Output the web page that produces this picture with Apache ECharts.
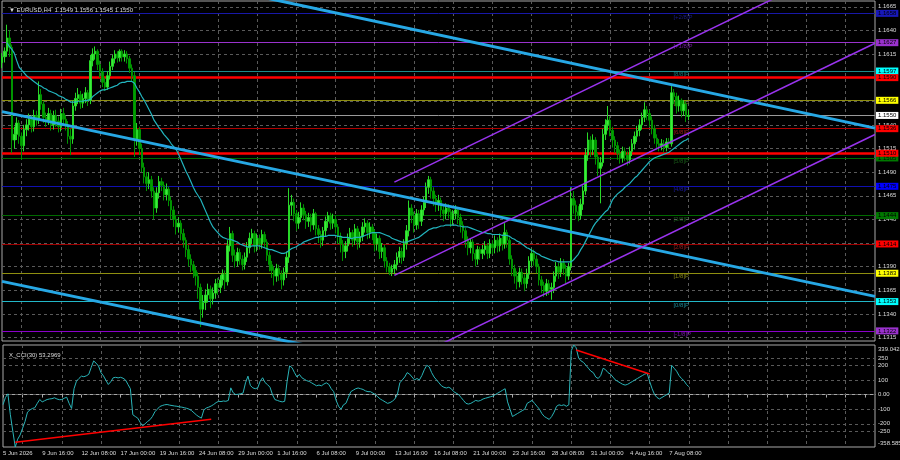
<!DOCTYPE html>
<html><head><meta charset="utf-8">
<script src="https://cdn.jsdelivr.net/npm/echarts@6.0.0/dist/echarts.min.js"></script>
<style>html,body{margin:0;padding:0;background:#000;}#c{width:900px;height:460px;}</style>
</head><body><div id="c"></div>
<script>
// ---------- DATA ----------
const symbolTitle = 'EURUSD,H4';
const cciTitle = 'X_CCI(30) 53.2969';
const firstBarUTC = [2026, 5, 5, 0];   // 5 Jun 2026 00:00, H4 bars
const totalBars = 357;                  // visible slots incl. empty right margin

const opens = [
1.1606,1.1612,1.1618,1.1632,1.1622,1.1524,1.1530,1.1542,1.1528,1.1518,
1.1535,1.1540,1.1546,1.1538,1.1550,1.1545,1.1572,1.1562,1.1548,1.1545,
1.1552,1.1540,1.1550,1.1544,1.1538,1.1552,1.1546,1.1540,1.1528,1.1525,
1.1560,1.1568,1.1572,1.1563,1.1568,1.1574,1.1566,1.1608,1.1615,1.1618,
1.1604,1.1596,1.1585,1.1580,1.1592,1.1602,1.1610,1.1615,1.1611,1.1618,
1.1612,1.1615,1.1610,1.1600,1.1592,1.1525,1.1535,1.1515,1.1495,1.1485,
1.1478,1.1482,1.1470,1.1452,1.1468,1.1480,1.1476,1.1466,1.1472,1.1460,
1.1450,1.1440,1.1432,1.1436,1.1425,1.1418,1.1408,1.1398,1.1392,1.1386,
1.1380,1.1368,1.1345,1.1352,1.1360,1.1366,1.1356,1.1362,1.1372,1.1368,
1.1376,1.1382,1.1374,1.1412,1.1425,1.1402,1.1396,1.1405,1.1398,1.1392,
1.1400,1.1410,1.1420,1.1425,1.1412,1.1420,1.1414,1.1424,1.1416,1.1402,
1.1392,1.1386,1.1380,1.1388,1.1382,1.1376,1.1384,1.1400,1.1455,1.1458,
1.1446,1.1436,1.1442,1.1452,1.1445,1.1438,1.1442,1.1434,1.1446,1.1430,
1.1424,1.1418,1.1428,1.1438,1.1444,1.1436,1.1440,1.1432,1.1422,1.1414,
1.1406,1.1412,1.1420,1.1426,1.1418,1.1430,1.1416,1.1422,1.1432,1.1436,
1.1426,1.1432,1.1426,1.1414,1.1420,1.1406,1.1410,1.1396,1.1390,1.1384,
1.1388,1.1392,1.1400,1.1406,1.1400,1.1414,1.1428,1.1452,1.1444,1.1434,
1.1446,1.1438,1.1450,1.1458,1.1474,1.1482,1.1470,1.1462,1.1456,1.1460,
1.1450,1.1446,1.1452,1.1448,1.1440,1.1446,1.1450,1.1442,1.1434,1.1428,
1.1418,1.1410,1.1416,1.1404,1.1398,1.1408,1.1404,1.1408,1.1412,1.1404,
1.1414,1.1410,1.1418,1.1412,1.1420,1.1414,1.1426,1.1418,1.1398,1.1388,
1.1380,1.1374,1.1384,1.1378,1.1372,1.1382,1.1396,1.1404,1.1398,1.1390,
1.1376,1.1370,1.1364,1.1372,1.1366,1.1368,1.1380,1.1390,1.1384,1.1394,
1.1388,1.1380,1.1390,1.1462,1.1455,1.1448,1.1444,1.1456,1.1470,1.1508,
1.1524,1.1514,1.1524,1.1506,1.1494,1.1500,1.1530,1.1540,1.1545,1.1534,
1.1524,1.1518,1.1510,1.1505,1.1512,1.1508,1.1503,1.1512,1.1520,1.1528,
1.1534,1.1540,1.1548,1.1556,1.1552,1.1545,1.1536,1.1526,1.1520,1.1518,
1.1520,1.1516,1.1522,1.1520,1.1574,1.1570,1.1560,1.1566,1.1555,1.1562,1.1549];

const closes = [
1.1612,1.1618,1.1632,1.1622,1.1524,1.1530,1.1542,1.1528,1.1518,1.1535,
1.1540,1.1546,1.1538,1.1550,1.1545,1.1572,1.1562,1.1548,1.1545,1.1552,
1.1540,1.1550,1.1544,1.1538,1.1552,1.1546,1.1540,1.1528,1.1525,1.1560,
1.1568,1.1572,1.1563,1.1568,1.1574,1.1566,1.1608,1.1615,1.1618,1.1604,
1.1596,1.1585,1.1580,1.1592,1.1602,1.1610,1.1615,1.1611,1.1618,1.1612,
1.1615,1.1610,1.1600,1.1592,1.1525,1.1535,1.1515,1.1495,1.1485,1.1478,
1.1482,1.1470,1.1452,1.1468,1.1480,1.1476,1.1466,1.1472,1.1460,1.1450,
1.1440,1.1432,1.1436,1.1425,1.1418,1.1408,1.1398,1.1392,1.1386,1.1380,
1.1368,1.1345,1.1352,1.1360,1.1366,1.1356,1.1362,1.1372,1.1368,1.1376,
1.1382,1.1374,1.1412,1.1425,1.1402,1.1396,1.1405,1.1398,1.1392,1.1400,
1.1410,1.1420,1.1425,1.1412,1.1420,1.1414,1.1424,1.1416,1.1402,1.1392,
1.1386,1.1380,1.1388,1.1382,1.1376,1.1384,1.1400,1.1455,1.1458,1.1446,
1.1436,1.1442,1.1452,1.1445,1.1438,1.1442,1.1434,1.1446,1.1430,1.1424,
1.1418,1.1428,1.1438,1.1444,1.1436,1.1440,1.1432,1.1422,1.1414,1.1406,
1.1412,1.1420,1.1426,1.1418,1.1430,1.1416,1.1422,1.1432,1.1436,1.1426,
1.1432,1.1426,1.1414,1.1420,1.1406,1.1410,1.1396,1.1390,1.1384,1.1388,
1.1392,1.1400,1.1406,1.1400,1.1414,1.1428,1.1452,1.1444,1.1434,1.1446,
1.1438,1.1450,1.1458,1.1474,1.1482,1.1470,1.1462,1.1456,1.1460,1.1450,
1.1446,1.1452,1.1448,1.1440,1.1446,1.1450,1.1442,1.1434,1.1428,1.1418,
1.1410,1.1416,1.1404,1.1398,1.1408,1.1404,1.1408,1.1412,1.1404,1.1414,
1.1410,1.1418,1.1412,1.1420,1.1414,1.1426,1.1418,1.1398,1.1388,1.1380,
1.1374,1.1384,1.1378,1.1372,1.1382,1.1396,1.1404,1.1398,1.1390,1.1376,
1.1370,1.1364,1.1372,1.1366,1.1368,1.1380,1.1390,1.1384,1.1394,1.1388,
1.1380,1.1390,1.1462,1.1455,1.1448,1.1444,1.1456,1.1470,1.1508,1.1524,
1.1514,1.1524,1.1506,1.1494,1.1500,1.1530,1.1540,1.1545,1.1534,1.1524,
1.1518,1.1510,1.1505,1.1512,1.1508,1.1503,1.1512,1.1520,1.1528,1.1534,
1.1540,1.1548,1.1556,1.1552,1.1545,1.1536,1.1526,1.1520,1.1518,1.1520,
1.1516,1.1522,1.1520,1.1574,1.1570,1.1560,1.1566,1.1555,1.1562,1.1549,1.1550];

const highs = [
1.1616,1.1622,1.1646,1.1640,1.1625,1.1538,1.1548,1.1545,1.1532,1.1540,
1.1546,1.1552,1.1550,1.1556,1.1555,1.1586,1.1578,1.1565,1.1553,1.1558,
1.1556,1.1555,1.1556,1.1549,1.1557,1.1558,1.1550,1.1544,1.1536,1.1566,
1.1574,1.1579,1.1576,1.1573,1.1580,1.1577,1.1614,1.1621,1.1623,1.1620,
1.1608,1.1600,1.1590,1.1597,1.1607,1.1614,1.1619,1.1618,1.1620,1.1620,
1.1619,1.1618,1.1613,1.1604,1.1596,1.1542,1.1538,1.1520,1.1500,1.1490,
1.1490,1.1486,1.1474,1.1474,1.1486,1.1484,1.1480,1.1478,1.1475,1.1464,
1.1454,1.1444,1.1442,1.1439,1.1430,1.1421,1.1413,1.1403,1.1396,1.1390,
1.1384,1.1372,1.1360,1.1366,1.1372,1.1370,1.1368,1.1377,1.1378,1.1381,
1.1387,1.1386,1.1418,1.1432,1.1428,1.1408,1.1410,1.1409,1.1402,1.1405,
1.1416,1.1426,1.1430,1.1428,1.1425,1.1424,1.1429,1.1427,1.1419,1.1406,
1.1396,1.1390,1.1393,1.1392,1.1386,1.1389,1.1406,1.1473,1.1466,1.1462,
1.1450,1.1448,1.1458,1.1456,1.1449,1.1447,1.1446,1.1451,1.1448,1.1434,
1.1428,1.1432,1.1443,1.1448,1.1447,1.1446,1.1444,1.1435,1.1426,1.1418,
1.1417,1.1425,1.1431,1.1429,1.1435,1.1433,1.1427,1.1437,1.1441,1.1439,
1.1437,1.1435,1.1429,1.1425,1.1423,1.1415,1.1413,1.1400,1.1394,1.1392,
1.1397,1.1405,1.1411,1.1410,1.1419,1.1434,1.1460,1.1456,1.1448,1.1451,
1.1450,1.1455,1.1464,1.1479,1.1486,1.1485,1.1474,1.1466,1.1466,1.1463,
1.1455,1.1457,1.1456,1.1451,1.1450,1.1455,1.1453,1.1446,1.1438,1.1431,
1.1422,1.1420,1.1419,1.1408,1.1412,1.1411,1.1413,1.1417,1.1415,1.1419,
1.1418,1.1423,1.1421,1.1425,1.1424,1.1436,1.1429,1.1421,1.1402,1.1392,
1.1385,1.1389,1.1388,1.1382,1.1388,1.1401,1.1409,1.1408,1.1402,1.1393,
1.1380,1.1374,1.1377,1.1376,1.1373,1.1385,1.1395,1.1394,1.1399,1.1398,
1.1392,1.1394,1.1474,1.1470,1.1460,1.1454,1.1462,1.1476,1.1515,1.1532,
1.1528,1.1530,1.1527,1.1510,1.1506,1.1536,1.1546,1.1560,1.1549,1.1538,
1.1528,1.1522,1.1514,1.1517,1.1516,1.1512,1.1517,1.1525,1.1533,1.1539,
1.1546,1.1553,1.1564,1.1560,1.1556,1.1549,1.1540,1.1530,1.1525,1.1525,
1.1524,1.1526,1.1526,1.1581,1.1578,1.1574,1.1571,1.1568,1.1566,1.1565,1.1556];

const lows = [
1.1600,1.1606,1.1612,1.1612,1.1510,1.1515,1.1524,1.1520,1.1503,1.1512,
1.1528,1.1534,1.1532,1.1533,1.1539,1.1541,1.1556,1.1542,1.1538,1.1540,
1.1534,1.1535,1.1538,1.1532,1.1533,1.1540,1.1534,1.1520,1.1508,1.1520,
1.1555,1.1562,1.1557,1.1558,1.1563,1.1560,1.1562,1.1602,1.1609,1.1598,
1.1590,1.1580,1.1576,1.1577,1.1588,1.1598,1.1605,1.1606,1.1607,1.1607,
1.1607,1.1605,1.1595,1.1586,1.1506,1.1518,1.1508,1.1490,1.1478,1.1470,
1.1472,1.1463,1.1440,1.1447,1.1462,1.1470,1.1460,1.1460,1.1454,1.1440,
1.1432,1.1424,1.1426,1.1418,1.1410,1.1400,1.1390,1.1384,1.1378,1.1370,
1.1356,1.1326,1.1336,1.1344,1.1352,1.1346,1.1350,1.1356,1.1360,1.1362,
1.1370,1.1366,1.1370,1.1406,1.1395,1.1389,1.1390,1.1392,1.1386,1.1387,
1.1395,1.1404,1.1414,1.1405,1.1406,1.1408,1.1409,1.1410,1.1396,1.1385,
1.1378,1.1370,1.1374,1.1375,1.1366,1.1370,1.1378,1.1394,1.1444,1.1438,
1.1428,1.1430,1.1437,1.1439,1.1430,1.1432,1.1427,1.1429,1.1423,1.1415,
1.1410,1.1412,1.1422,1.1431,1.1429,1.1430,1.1425,1.1414,1.1405,1.1396,
1.1399,1.1406,1.1414,1.1411,1.1413,1.1408,1.1410,1.1417,1.1426,1.1419,
1.1420,1.1418,1.1406,1.1407,1.1398,1.1399,1.1389,1.1384,1.1381,1.1380,
1.1382,1.1386,1.1394,1.1393,1.1396,1.1408,1.1422,1.1436,1.1426,1.1429,
1.1430,1.1433,1.1444,1.1452,1.1467,1.1462,1.1454,1.1448,1.1449,1.1442,
1.1438,1.1440,1.1441,1.1432,1.1434,1.1440,1.1435,1.1426,1.1420,1.1410,
1.1402,1.1404,1.1396,1.1390,1.1392,1.1397,1.1398,1.1402,1.1398,1.1399,
1.1403,1.1404,1.1405,1.1406,1.1407,1.1409,1.1410,1.1392,1.1380,1.1372,
1.1366,1.1368,1.1371,1.1364,1.1367,1.1377,1.1390,1.1391,1.1383,1.1370,
1.1362,1.1358,1.1359,1.1360,1.1355,1.1362,1.1374,1.1377,1.1379,1.1381,
1.1372,1.1376,1.1386,1.1446,1.1440,1.1438,1.1440,1.1450,1.1466,1.1502,
1.1506,1.1508,1.1498,1.1486,1.1457,1.1496,1.1524,1.1534,1.1528,1.1516,
1.1510,1.1503,1.1499,1.1500,1.1502,1.1497,1.1499,1.1507,1.1514,1.1522,
1.1528,1.1535,1.1543,1.1545,1.1538,1.1530,1.1520,1.1514,1.1512,1.1513,
1.1511,1.1512,1.1515,1.1517,1.1562,1.1552,1.1554,1.1548,1.1550,1.1543,1.1545];

const maValues = [
null,null,1.1627,1.1623,1.1620,1.1616,1.1608,1.1601,1.1598,1.1595,
1.1592,1.1590,1.1588,1.1586,1.1584,1.1582,1.1581,1.1579,1.1578,1.1576,
1.1575,1.1574,1.1573,1.1571,1.1570,1.1569,1.1567,1.1566,1.1564,1.1564,
1.1564,1.1565,1.1565,1.1565,1.1566,1.1566,1.1567,1.1570,1.1572,1.1574,
1.1576,1.1577,1.1577,1.1578,1.1579,1.1580,1.1581,1.1582,1.1584,1.1585,
1.1585,1.1586,1.1586,1.1586,1.1584,1.1579,1.1575,1.1570,1.1566,1.1561,
1.1556,1.1551,1.1545,1.1541,1.1537,1.1534,1.1530,1.1527,1.1524,1.1520,
1.1517,1.1514,1.1509,1.1503,1.1497,1.1491,1.1486,1.1480,1.1474,1.1469,
1.1465,1.1461,1.1455,1.1449,1.1443,1.1437,1.1432,1.1429,1.1426,1.1423,
1.1421,1.1420,1.1419,1.1419,1.1418,1.1417,1.1416,1.1414,1.1413,1.1412,
1.1411,1.1411,1.1412,1.1412,1.1412,1.1412,1.1411,1.1410,1.1409,1.1408,
1.1408,1.1407,1.1406,1.1405,1.1404,1.1404,1.1405,1.1407,1.1409,1.1410,
1.1411,1.1413,1.1414,1.1416,1.1417,1.1418,1.1419,1.1420,1.1421,1.1421,
1.1422,1.1422,1.1422,1.1423,1.1423,1.1423,1.1423,1.1422,1.1422,1.1421,
1.1421,1.1421,1.1420,1.1420,1.1421,1.1421,1.1421,1.1422,1.1423,1.1424,
1.1425,1.1426,1.1426,1.1426,1.1426,1.1425,1.1424,1.1423,1.1422,1.1420,
1.1419,1.1418,1.1417,1.1416,1.1416,1.1416,1.1417,1.1418,1.1419,1.1420,
1.1421,1.1423,1.1425,1.1427,1.1429,1.1430,1.1431,1.1431,1.1432,1.1433,
1.1433,1.1434,1.1434,1.1434,1.1434,1.1434,1.1433,1.1433,1.1432,1.1432,
1.1432,1.1431,1.1430,1.1429,1.1428,1.1427,1.1426,1.1426,1.1425,1.1425,
1.1424,1.1424,1.1424,1.1424,1.1423,1.1423,1.1423,1.1422,1.1420,1.1419,
1.1417,1.1416,1.1414,1.1412,1.1410,1.1409,1.1407,1.1406,1.1404,1.1403,
1.1401,1.1400,1.1399,1.1398,1.1397,1.1396,1.1396,1.1395,1.1395,1.1395,
1.1395,1.1395,1.1395,1.1397,1.1400,1.1403,1.1408,1.1412,1.1417,1.1422,
1.1427,1.1432,1.1436,1.1439,1.1442,1.1445,1.1448,1.1450,1.1455,1.1461,
1.1464,1.1467,1.1469,1.1471,1.1474,1.1476,1.1478,1.1481,1.1484,1.1486,
1.1489,1.1492,1.1495,1.1498,1.1501,1.1503,1.1505,1.1506,1.1507,1.1508,
1.1509,1.1510,1.1511,1.1513,1.1515,1.1517,1.1519,1.1521,1.1523,1.1524,1.1526];

const cciValues = [
-69,-20,5,-138,-250,-358.585,-305,-276,-230,-184,
-120,-105,-95,-90,-60,-34,-50,-42,-34,-30,
-28,-22,-30,-35,-34,-25,-18,-60,-95,40,
92,110,126,122,128,138,185,230,215,195,
150,128,98,69,88,115,118,114,118,112,
100,70,40,-138,-150,-161,-190,-214,-200,-184,
-172,-150,-118,-100,-82,-75,-70,-68,-72,-75,
-78,-80,-84,-86,-90,-94,-100,-110,-125,-140,
-152,-161,-105,-92,-86,-78,-68,-55,-46,-48,
-44,-46,-40,46,12,0,2,6,10,80,
126,62,46,40,46,92,115,82,68,50,
0,-34,-40,-46,-50,-46,92,196,184,150,
120,138,115,105,95,90,80,70,60,65,
60,72,80,70,40,20,-40,-80,-100,-70,
-60,-20,20,30,40,45,40,35,25,20,
20,10,0,-15,-30,-40,-50,-60,-55,-45,
-30,0,80,100,120,150,140,120,100,110,
100,130,170,200,190,150,120,100,80,60,
50,45,50,40,20,10,0,-20,-40,-60,
-65,-60,-50,-40,-45,-40,-30,-25,-20,-15,
-10,0,10,20,30,40,-50,-100,-150,-140,
-130,-120,-110,-100,-60,-50,-40,-60,-80,-100,
-130,-150,-160,-170,-150,-120,-80,-70,-75,-70,
-80,-70,300,339.0424,320,250,230,220,200,180,
160,150,120,110,130,180,170,150,140,120,
100,90,80,70,65,70,80,90,100,110,
120,130,140,145,90,40,0,-20,-30,-20,
-10,0,10,200,180,160,130,110,95,70,53.2969];

const priceTicks = [1.1315,1.1340,1.1365,1.1390,1.1415,1.1440,1.1465,1.1490,1.1515,1.1540,1.1565,1.1590,1.1615,1.1640,1.1665];
const priceMin = 1.13113, priceMax = 1.16711;
const cciTicks = [250,200,100,0,-100,-200,-250];
const cciMin = -358.585, cciMax = 339.0424;

const murrayNames  = ['[-1/8]P','[0/8]P','[1/8]P','[2/8]P','[3/8]P','[4/8]P','[5/8]P','[6/8]P','[7/8]P','[8/8]P','[+1/8]P','[+2/8]P'];
const murrayValues = [1.1322,1.1353,1.1383,1.1414,1.1444,1.1475,1.1505,1.1536,1.1566,1.1597,1.1627,1.1658];
const supportLevels = [1.1590, 1.1510];
const bidPrice = 1.1550;

// trend lines as [barIndex, price] end points
const blueLines = [
  [[0, 1.17340], [356, 1.15366]],
  [[0, 1.15540], [356, 1.13585]],
  [[0, 1.13744], [356, 1.11804]]
];
const purpleLines = [
  [[160, 1.14794], [356, 1.17255]],
  [[160, 1.13807], [356, 1.16264]],
  [[160, 1.12841], [356, 1.15298]]
];
const cciRedLines = [
  [[5, -326.4], [85, -169.1]],
  [[234, 304.8], [264, 140.7]]
];

// ---------- BUILD ----------
const MONTHS = ['Jan','Feb','Mar','Apr','May','Jun','Jul','Aug','Sep','Oct','Nov','Dec'];
const categories = [];
(function () {
  let t = Date.UTC(firstBarUTC[0], firstBarUTC[1], firstBarUTC[2], firstBarUTC[3]);
  while (categories.length < totalBars) {
    const d = new Date(t);
    const wd = d.getUTCDay();
    if (wd !== 0 && wd !== 6) {
      const hh = String(d.getUTCHours()).padStart(2, '0');
      categories.push(categories.length === 0
        ? d.getUTCDate() + ' ' + MONTHS[d.getUTCMonth()] + ' ' + d.getUTCFullYear()
        : d.getUTCDate() + ' ' + MONTHS[d.getUTCMonth()] + ' ' + hh + ':00');
    }
    t += 4 * 3600 * 1000;
  }
})();

const candleData = opens.map((o, i) => [o, closes[i], lows[i], highs[i]]);
const last = candleData.length - 1;
const fmt4 = v => v.toFixed(4);
const titleText = '\u25BC ' + symbolTitle + '  ' + fmt4(opens[last]) + ' ' + fmt4(highs[last]) + ' ' + fmt4(lows[last]) + ' ' + fmt4(closes[last]);

const FONT = 'Liberation Sans';
const FS = 6;
const TXT = '#dcdcdc';
const GRIDC = '#5a5a5a';
const CLEAR = 'rgba(0,0,0,0)';

const murrayLine = ['#8A00C8','#22B8C8','#8F8F10','#A00000','#006A00','#1010B0','#006A00','#B00000','#8F8F10','#1B8A8A','#9A32CD','#1818A8'];
const murrayBox  = ['#9A32CD','#00FFFF','#FFFF00','#FF0000','#007800','#0000FF','#007800','#FF0000','#FFFF00','#00FFFF','#9A32CD','#1818B8'];
const murrayTag  = ['#8A20C0','#20A8B8','#A0A020','#B02020','#1E6E1E','#2020C0','#1E6E1E','#C02020','#A0A020','#1E8C8C','#8A20C0','#2020A0'];
const tagBar = 274;

function boxLabel(bg, fg) {
  return { show: true, position: 'end', distance: 1, formatter: p => fmt4(p.value),
    backgroundColor: bg, color: fg, fontSize: FS, fontFamily: FONT, padding: [1, 2, 0, 2] };
}

const levelLines = [];
murrayValues.forEach((v, i) => levelLines.push({ yAxis: v,
  lineStyle: { color: murrayLine[i], width: 1, type: 'solid' }, label: boxLabel(murrayBox[i], '#000') }));
supportLevels.forEach(v => levelLines.push({ yAxis: v,
  lineStyle: { color: '#FF0000', width: 2.5, type: 'solid' }, label: boxLabel('#FF0000', '#000') }));
levelLines.push({ yAxis: bidPrice, lineStyle: { color: '#9a9a9a', width: 1, type: 'solid' }, label: boxLabel('#FFFFFF', '#000') });

const series = [
  { type: 'line', xAxisIndex: 0, yAxisIndex: 0, data: [], z: 1, silent: true,
    markLine: { silent: true, symbol: 'none', animation: false, precision: 6,
      data: priceTicks.map(v => ({ yAxis: v })),
      lineStyle: { color: GRIDC, type: [3, 3], width: 1 },
      label: { show: true, position: 'end', distance: 3, formatter: p => fmt4(p.value), color: TXT, fontSize: FS, fontFamily: FONT } } },
  { type: 'line', xAxisIndex: 0, yAxisIndex: 0, data: [], z: 3, silent: true,
    markLine: { silent: true, symbol: 'none', animation: false, precision: 6, data: levelLines } },
  { type: 'scatter', xAxisIndex: 0, yAxisIndex: 0, z: 3, silent: true, symbolSize: 1,
    itemStyle: { color: CLEAR },
    data: murrayValues.map((v, i) => ({ value: [tagBar, v], name: murrayNames[i],
      label: { show: true, position: [0, 1], align: 'left', verticalAlign: 'top', formatter: '{b}',
        color: murrayTag[i], fontSize: FS, fontFamily: FONT } })) },
  { type: 'candlestick', xAxisIndex: 0, yAxisIndex: 0, z: 5, data: candleData, barWidth: 2,
    itemStyle: { color: '#3CEC3C', color0: '#00A000', borderColor: '#28D828', borderColor0: '#009400', borderWidth: 1 } },
  { type: 'line', xAxisIndex: 0, yAxisIndex: 0, z: 6, data: maValues, symbol: 'none', connectNulls: false,
    lineStyle: { color: '#22B4BE', width: 1.2 } }
];
blueLines.forEach(l => series.push({ type: 'line', xAxisIndex: 0, yAxisIndex: 0, z: 7, data: l, symbol: 'none',
  lineStyle: { color: '#27A8E5', width: 3 } }));
purpleLines.forEach(l => series.push({ type: 'line', xAxisIndex: 0, yAxisIndex: 0, z: 7, data: l, symbol: 'none',
  lineStyle: { color: '#9933EE', width: 1.5 } }));

// CCI panel
series.push({ type: 'line', xAxisIndex: 1, yAxisIndex: 1, data: [], z: 1, silent: true,
  markLine: { silent: true, symbol: 'none', animation: false, precision: 6,
    data: cciTicks.map(v => ({ yAxis: v }))
      .concat([{ yAxis: cciMax, lineStyle: { color: CLEAR }, label: { offset: [0, 4] } },
               { yAxis: cciMin, lineStyle: { color: CLEAR }, label: { offset: [0, -4] } }]),
    lineStyle: { color: GRIDC, type: [3, 3], width: 1 },
    label: { show: true, position: 'end', distance: 3,
      formatter: p => (p.value === 0 ? '0.00' : String(p.value)), color: TXT, fontSize: FS, fontFamily: FONT } } });
series.push({ type: 'line', xAxisIndex: 1, yAxisIndex: 1, z: 5, data: cciValues, symbol: 'none',
  lineStyle: { color: '#2AB4B8', width: 1 } });
cciRedLines.forEach(l => series.push({ type: 'line', xAxisIndex: 1, yAxisIndex: 1, z: 6, data: l, symbol: 'none',
  lineStyle: { color: '#FF0000', width: 1.5 } }));

const every = n => (i => i % n === 0);
const gridLineFn = i => i % 16 === 8;
const labelFn = i => i % 16 === 0 && i <= last;

const option = {
  backgroundColor: '#000000',
  animation: false,
  textStyle: { fontFamily: FONT },
  title: [
    { text: titleText, left: 4, top: 2, textStyle: { color: TXT, fontSize: FS, fontWeight: 'normal', fontFamily: FONT } },
    { text: cciTitle, left: 4, top: 347, textStyle: { color: TXT, fontSize: FS, fontWeight: 'normal', fontFamily: FONT } }
  ],
  grid: [
    { left: 2, right: 25, top: 1, height: 340, show: true, borderColor: '#a8a8a8', borderWidth: 1, backgroundColor: 'transparent' },
    { left: 2, right: 25, top: 345, height: 102, show: true, borderColor: '#a8a8a8', borderWidth: 1, backgroundColor: 'transparent' }
  ],
  xAxis: [
    { type: 'category', gridIndex: 0, data: categories, boundaryGap: false,
      axisLine: { show: false }, axisTick: { show: false }, axisLabel: { show: false },
      splitLine: { show: true, interval: gridLineFn, lineStyle: { color: GRIDC, type: [3, 3] } } },
    { type: 'category', gridIndex: 1, data: categories, boundaryGap: false,
      axisLine: { show: true, lineStyle: { color: '#a8a8a8' } },
      axisTick: { show: true, interval: every(8), length: 3, lineStyle: { color: '#a8a8a8' } },
      axisLabel: { show: true, interval: labelFn, align: 'left', margin: 3, color: TXT, fontSize: FS, fontFamily: FONT, hideOverlap: false },
      splitLine: { show: true, interval: gridLineFn, lineStyle: { color: GRIDC, type: [3, 3] } } }
  ],
  yAxis: [
    { type: 'value', gridIndex: 0, min: priceMin, max: priceMax, position: 'right', scale: true,
      axisLine: { show: false }, axisTick: { show: false }, axisLabel: { show: false }, splitLine: { show: false } },
    { type: 'value', gridIndex: 1, min: cciMin, max: cciMax, position: 'right',
      axisLine: { show: false }, axisTick: { show: false }, axisLabel: { show: false }, splitLine: { show: false } }
  ],
  series: series
};

const chart = echarts.init(document.getElementById('c'), null, { renderer: 'canvas' });
chart.setOption(option);
</script>
</body></html>
